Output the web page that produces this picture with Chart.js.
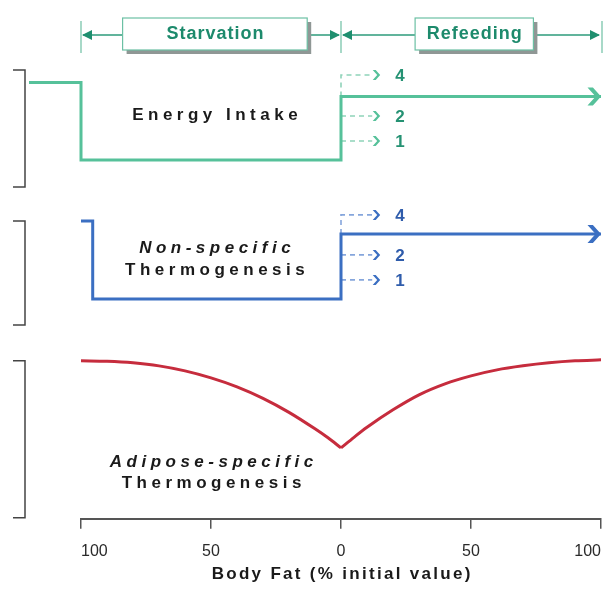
<!DOCTYPE html>
<html>
<head>
<meta charset="utf-8">
<script src="https://cdn.jsdelivr.net/npm/chart.js@4.4.0/dist/chart.umd.min.js"></script>
<style>
  html, body { margin: 0; padding: 0; background: #fff; overflow: hidden; }
  #wrap { width: 614px; height: 589px; }
</style>
</head>
<body>
<div id="wrap"><canvas id="fatChart"></canvas></div>
<script>
// x runs along the body-fat course: 0 = 100% (start), 100 = 0% (depleted), 200 = 100% (recovered)
const fatTicks = [0, 50, 100, 150, 200];
const fatTickLabels = ['100', '50', '0', '50', '100'];
const phaseNames = ['Starvation', 'Refeeding'];
const phaseBounds = [0, 100, 200];

// energy intake (green)
const intakeX = [-20, 0, 0, 100, 100, 200];
const intakeY = [87.3, 87.3, 71.8, 71.8, 84.5, 84.5];

// non-specific thermogenesis (blue)
const nonSpecX = [0, 4.5, 4.5, 100, 100, 200];
const nonSpecY = [59.6, 59.6, 44.0, 44.0, 57.0, 57.0];

// alternative refeeding levels (dashed arrows)
const altLabels = ['4', '2', '1'];
const intakeAltY = [88.8, 80.6, 75.6];
const nonSpecAltY = [60.8, 52.8, 47.8];
const altEndX = 112;

// adipose-specific thermogenesis (red)
const adiposeX = [0, 10, 20, 30, 40, 50, 60, 70, 80, 90, 95, 100, 105, 110, 120, 130, 140, 150, 160, 170, 180, 190, 200];
const adiposeY = [31.6, 31.5, 31.2, 30.6, 29.6, 28.2, 26.4, 24.1, 21.3, 18.0, 16.2, 14.2, 16.3, 18.3, 21.8, 24.8, 27.0, 28.6, 29.8, 30.6, 31.2, 31.6, 31.8];

// vertical extent of each panel, for the brackets on the left
const panelRanges = [[66.4, 89.8], [38.8, 59.6], [0.2, 31.6]];

const FONT = '"Liberation Sans", Arial, sans-serif';
const GREEN = '#56c19a';
const GREEN_DARK = '#259273';
const BLUE = '#3b6fc2';
const BLUE_DARK = '#2f5cab';
const RED = '#c62c3d';

function pts(xs, ys) {
    return xs.map((x, i) => ({ x: x, y: ys[i] }));
}

function lineSet(label, data, color, extra) {
    return Object.assign({
        label: label,
        data: data,
        borderColor: color,
        borderWidth: 3,
        pointRadius: 0,
        fill: false,
        clip: false,
        tension: 0,
        borderJoinStyle: 'miter',
        borderCapStyle: 'butt'
    }, extra || {});
}

const datasets = [];
datasets.push(lineSet('Energy Intake', pts(intakeX, intakeY), GREEN, { arrow: 'big' }));
datasets.push(lineSet('Non-specific Thermogenesis', pts(nonSpecX, nonSpecY), BLUE, { arrow: 'big' }));

// dashed alternatives
altLabels.forEach((lab, i) => {
    const g = i === 0 ? [{ x: 100, y: intakeY[4] }] : [];
    const b = i === 0 ? [{ x: 100, y: nonSpecY[4] }] : [];
    datasets.push(lineSet('Intake ' + lab, g.concat([{ x: 100, y: intakeAltY[i] }, { x: altEndX, y: intakeAltY[i] }]),
        '#8fd3b9', { borderWidth: 1.6, borderDash: [5, 4], arrow: 'small', arrowColor: GREEN, altLabel: lab, labelColor: GREEN_DARK }));
    datasets.push(lineSet('Non-specific ' + lab, b.concat([{ x: 100, y: nonSpecAltY[i] }, { x: altEndX, y: nonSpecAltY[i] }]),
        '#86a6dc', { borderWidth: 1.6, borderDash: [5, 4], arrow: 'small', arrowColor: BLUE, altLabel: lab, labelColor: BLUE_DARK }));
});

// adipose curve in two halves so the minimum stays a sharp cusp
const cusp = adiposeX.indexOf(100);
datasets.push(lineSet('Adipose-specific (starvation)', pts(adiposeX.slice(0, cusp + 1), adiposeY.slice(0, cusp + 1)), RED,
    { cubicInterpolationMode: 'monotone' }));
datasets.push(lineSet('Adipose-specific (refeeding)', pts(adiposeX.slice(cusp), adiposeY.slice(cusp)), RED,
    { cubicInterpolationMode: 'monotone' }));

function chevron(ctx, x, y, s, color) {
    ctx.fillStyle = color;
    ctx.beginPath();
    ctx.moveTo(x, y);
    ctx.lineTo(x - 0.9 * s, y - s);
    ctx.lineTo(x - 1.5 * s, y - s);
    ctx.lineTo(x - 0.6 * s, y);
    ctx.lineTo(x - 1.5 * s, y + s);
    ctx.lineTo(x - 0.9 * s, y + s);
    ctx.closePath();
    ctx.fill();
}

function spacedText(ctx, text, x, y, font, spacing, color) {
    ctx.save();
    ctx.font = font;
    ctx.letterSpacing = spacing + 'px';
    ctx.fillStyle = color;
    ctx.textAlign = 'center';
    ctx.textBaseline = 'middle';
    ctx.fillText(text, x + spacing / 2, y);
    ctx.restore();
}

function triangle(ctx, tipX, y, dir, color) {
    ctx.fillStyle = color;
    ctx.beginPath();
    ctx.moveTo(tipX, y);
    ctx.lineTo(tipX - dir * 10, y - 5);
    ctx.lineTo(tipX - dir * 10, y + 5);
    ctx.closePath();
    ctx.fill();
}

const decor = {
    id: 'decor',
    afterDatasetsDraw(chart) {
        const ctx = chart.ctx;
        const xs = chart.scales.x;
        const ys = chart.scales.y;
        ctx.save();

        // arrowheads and level labels
        chart.data.datasets.forEach((ds, i) => {
            if (!ds.arrow) return;
            const meta = chart.getDatasetMeta(i);
            const p = meta.data[meta.data.length - 1];
            if (ds.arrow === 'big') {
                chevron(ctx, p.x, p.y, 9, ds.borderColor);
            } else {
                chevron(ctx, p.x + 8, p.y, 5, ds.arrowColor);
                ctx.font = 'bold 17px ' + FONT;
                ctx.fillStyle = ds.labelColor;
                ctx.textAlign = 'left';
                ctx.textBaseline = 'middle';
                ctx.fillText(ds.altLabel, p.x + 23, p.y + 1);
            }
        });

        // panel brackets
        ctx.strokeStyle = '#444';
        ctx.lineWidth = 1.5;
        panelRanges.forEach(r => {
            const top = ys.getPixelForValue(r[1]);
            const bot = ys.getPixelForValue(r[0]);
            const bx = xs.left - 56;
            ctx.beginPath();
            ctx.moveTo(bx - 12, top);
            ctx.lineTo(bx, top);
            ctx.lineTo(bx, bot);
            ctx.lineTo(bx - 12, bot);
            ctx.stroke();
        });

        // panel titles
        const bold = 'bold 17px ' + FONT;
        const ital = 'italic bold 17px ' + FONT;
        const cx = xs.getPixelForValue(51.5);
        spacedText(ctx, 'Energy Intake', cx, ys.getPixelForValue(80.8), bold, 4.5, '#1a1a1a');
        spacedText(ctx, 'Non-specific', cx, ys.getPixelForValue(54.1), ital, 4.5, '#1a1a1a');
        spacedText(ctx, 'Thermogenesis', cx, ys.getPixelForValue(49.8), bold, 4.5, '#1a1a1a');
        spacedText(ctx, 'Adipose-specific', xs.getPixelForValue(50.2), ys.getPixelForValue(11.3), ital, 4.5, '#1a1a1a');
        spacedText(ctx, 'Thermogenesis', xs.getPixelForValue(50.2), ys.getPixelForValue(7.1), bold, 4.5, '#1a1a1a');

        // phase header
        const hy = ys.getPixelForValue(96.8);
        const barTop = ys.getPixelForValue(99.6);
        const barBot = ys.getPixelForValue(93.2);
        ctx.strokeStyle = '#8bcdb6';
        ctx.lineWidth = 1.5;
        phaseBounds.forEach(b => {
            const bx = Math.min(xs.getPixelForValue(b) + (b === 200 ? 1.5 : 0), 602);
            ctx.beginPath();
            ctx.moveTo(bx, barTop);
            ctx.lineTo(bx, barBot);
            ctx.stroke();
        });
        const boxes = [[16, 87], [128.5, 174]];
        const boxTop = ys.getPixelForValue(100.2);
        const boxBot = ys.getPixelForValue(93.8);
        phaseNames.forEach((name, i) => {
            const x0 = xs.getPixelForValue(phaseBounds[i]);
            const x1 = xs.getPixelForValue(phaseBounds[i + 1]);
            const bl = xs.getPixelForValue(boxes[i][0]);
            const br = xs.getPixelForValue(boxes[i][1]);
            ctx.strokeStyle = '#2e9c7c';
            ctx.lineWidth = 1.5;
            ctx.beginPath();
            ctx.moveTo(x0 + 2, hy);
            ctx.lineTo(bl, hy);
            ctx.moveTo(br, hy);
            ctx.lineTo(x1 - 2, hy);
            ctx.stroke();
            triangle(ctx, x0 + 1, hy, -1, '#1f8f6f');
            triangle(ctx, x1 - 1, hy, 1, '#1f8f6f');
            // shadowed box
            ctx.fillStyle = '#8f9795';
            ctx.fillRect(bl + 4, boxTop + 4, br - bl, boxBot - boxTop);
            ctx.fillStyle = '#fff';
            ctx.fillRect(bl, boxTop, br - bl, boxBot - boxTop);
            ctx.strokeStyle = '#6cc0a4';
            ctx.lineWidth = 1.2;
            ctx.strokeRect(bl, boxTop, br - bl, boxBot - boxTop);
            spacedText(ctx, name, (bl + br) / 2, (boxTop + boxBot) / 2, 'bold 18px ' + FONT, 1, '#1d8a6c');
        });

        // x axis title
        spacedText(ctx, 'Body Fat (% initial value)', (xs.left + xs.right) / 2, xs.top + 56,
            'bold 17px ' + FONT, 2.3, '#1a1a1a');

        ctx.restore();
    }
};

new Chart(document.getElementById('fatChart'), {
    type: 'line',
    data: { datasets: datasets },
    options: {
        responsive: true,
        maintainAspectRatio: false,
        animation: false,
        layout: { padding: { left: 81, right: 2, top: 19, bottom: 15 } },
        plugins: { legend: { display: false }, tooltip: { enabled: false } },
        scales: {
            x: {
                type: 'linear',
                min: 0,
                max: 200,
                afterBuildTicks: s => { s.ticks = fatTicks.map(v => ({ value: v })); },
                ticks: {
                    align: 'inner',
                    padding: 13,
                    color: '#2a2a2a',
                    font: { family: FONT, size: 16 },
                    callback: (v, i) => fatTickLabels[i]
                },
                grid: { drawOnChartArea: false, drawTicks: true, tickLength: 10, color: '#555', lineWidth: 1.5 },
                border: { display: true, color: '#555', width: 2 }
            },
            y: { type: 'linear', min: 0, max: 100, display: false }
        }
    },
    plugins: [decor]
});
</script>
</body>
</html>
